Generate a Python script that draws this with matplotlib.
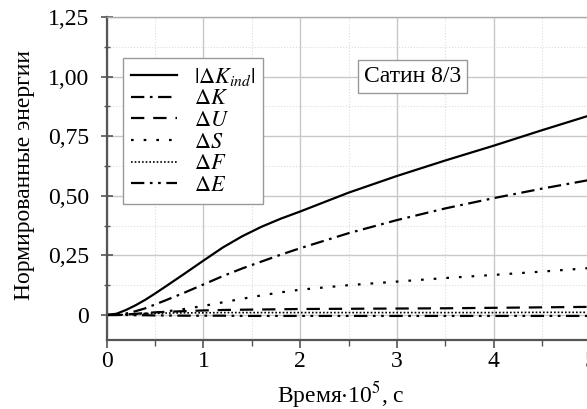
import matplotlib
matplotlib.use("Agg")
import matplotlib.pyplot as plt
import numpy as np
from matplotlib.ticker import FixedLocator, MultipleLocator

plt.rcParams['font.family'] = ['Liberation Serif', 'DejaVu Serif']
plt.rcParams['mathtext.fontset'] = 'stix'

# data
t = [0, 0.1, 0.2, 0.3, 0.4, 0.5, 0.6, 0.8, 1.0, 1.2, 1.4, 1.6, 1.8, 2.0, 2.5, 3.0, 3.5, 4.0, 4.5, 5.0, 5.1]
dK_ind = [0, 0.005, 0.021, 0.041, 0.064, 0.09, 0.117, 0.172, 0.228, 0.283, 0.33, 0.37, 0.404, 0.434,
          0.513, 0.583, 0.648, 0.71, 0.775, 0.838, 0.85]
dK = [0, 0.001, 0.006, 0.016, 0.028, 0.044, 0.06, 0.093, 0.128, 0.163, 0.195, 0.224, 0.253, 0.28,
      0.343, 0.398, 0.447, 0.49, 0.53, 0.567, 0.574]
dU = [0, 0.0, 0.002, 0.005, 0.008, 0.011, 0.013, 0.016, 0.019, 0.021, 0.022, 0.023, 0.024, 0.025,
      0.026, 0.027, 0.028, 0.03, 0.032, 0.034, 0.034]
dS = [0, 0.0, 0.001, 0.003, 0.006, 0.01, 0.014, 0.025, 0.038, 0.053, 0.068, 0.082, 0.095, 0.106,
      0.125, 0.14, 0.155, 0.168, 0.182, 0.197, 0.2]
dF = [0, 0.0, 0.002, 0.004, 0.006, 0.007, 0.008, 0.009, 0.009, 0.01, 0.01, 0.01, 0.01, 0.01,
      0.01, 0.01, 0.01, 0.01, 0.011, 0.011, 0.011]
dE = [0, 0.0, 0.0, -0.001, -0.001, -0.002, -0.002, -0.003, -0.003, -0.003, -0.004, -0.004, -0.004, -0.004,
      -0.004, -0.004, -0.004, -0.004, -0.004, -0.004, -0.004]

yticks = [0, 0.25, 0.5, 0.75, 1.0, 1.25]
ytick_labels = ['0', '0,25', '0,50', '0,75', '1,00', '1,25']
xticks = [0, 1, 2, 3, 4, 5]
xtick_labels = ['0', '1', '2', '3', '4', '5']

W, H = 587, 409
fig = plt.figure(figsize=(W / 100, H / 100), dpi=100)
left, right, top, bottom = 106.7, 600.0, 17.0, 340.0
ax = fig.add_axes([left / W, 1 - bottom / H, (right - left) / W, (bottom - top) / H])

ax.set_xlim(0, 5.1)
ax.set_ylim(-0.105, 1.25)

lw = 1.6
ax.plot(t, dK_ind, color='black', lw=lw, ls='-', label=r'$|\Delta K_{ind}|$')
ax.plot(t, dK, color='black', lw=lw, ls=(0, (6, 2.5, 1.2, 2.5)), label=r'$\Delta K$')
ax.plot(t, dU, color='black', lw=lw, ls=(0, (6, 4)), label=r'$\Delta U$')
ax.plot(t, dS, color='black', lw=lw, ls=(0, (1.2, 4.5)), label=r'$\Delta S$')
ax.plot(t, dF, color='black', lw=1.2, ls=(0, (1, 1.2)), label=r'$\Delta F$')
ax.plot(t, dE, color='black', lw=lw, ls=(0, (6, 2.5, 1.2, 2.5, 1.2, 2.5)), label=r'$\Delta E$')

ax.xaxis.set_major_locator(FixedLocator(xticks))
ax.set_xticklabels(xtick_labels)
ax.yaxis.set_major_locator(FixedLocator(yticks))
ax.set_yticklabels(ytick_labels)
ax.xaxis.set_minor_locator(MultipleLocator(0.5))
ax.yaxis.set_minor_locator(MultipleLocator(0.125))

ax.grid(which='major', color='#c8c8c8', lw=1.0, ls='-')
ax.grid(which='minor', color='#dcdcdc', lw=0.8, ls=':')
ax.set_axisbelow(True)

ax.tick_params(axis='both', which='both', labelsize=17, colors='#555555', labelcolor='black')
ax.tick_params(axis='x', which='major', direction='out', length=6, width=1.2, pad=2)
ax.tick_params(axis='x', which='minor', direction='out', length=4, width=1.0)
ax.tick_params(axis='y', which='major', direction='inout', length=9, width=1.2, pad=8)
ax.tick_params(axis='y', which='minor', direction='inout', length=5, width=1.0)

for s in ['left', 'bottom']:
    ax.spines[s].set_color('#555555')
    ax.spines[s].set_linewidth(1.6)
ax.spines['top'].set_color('#aaaaaa')
ax.spines['top'].set_linewidth(1.0)
ax.spines['right'].set_visible(False)

ax.set_xlabel(r'Время$\cdot$10$^5$, с', fontsize=17)
ax.set_ylabel('Нормированные энергии', fontsize=17)
ax.xaxis.set_label_coords(0.475, -0.122)
ax.yaxis.set_label_coords(-0.145, 0.51)

leg = ax.legend(loc='upper left', bbox_to_anchor=(0.033, 0.873), fontsize=16,
                frameon=True, fancybox=False, edgecolor='#999999', framealpha=1,
                handlelength=2.1, handletextpad=0.75, labelspacing=0.05,
                borderpad=0.35, borderaxespad=0)
leg.get_frame().set_linewidth(1.0)

ax.text(3.16, 1.0, 'Сатин 8/3', fontsize=17, ha='center', va='center',
        bbox=dict(boxstyle='square,pad=0.25', fc='white', ec='#999999', lw=1.0))

fig.savefig('out.png', dpi=100)
